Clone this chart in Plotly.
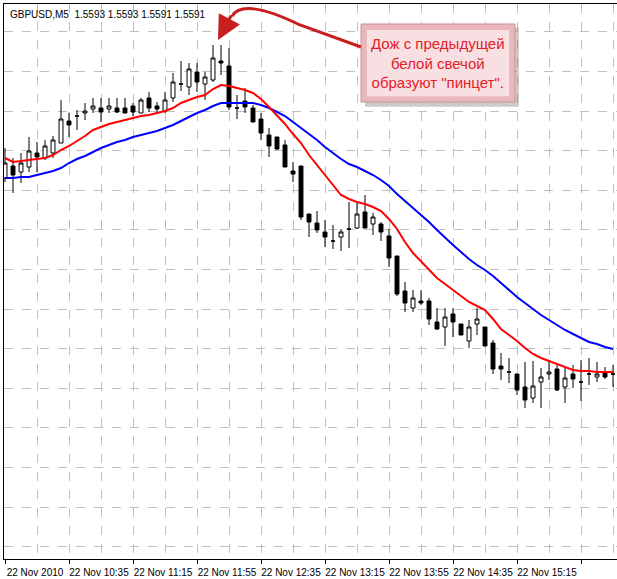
import plotly.graph_objects as go

# GBPUSD M5, 22 Nov 2010 - quotes in points (price * 1e5)
opens = [156910,156970,156940,156965,157035,157010,157035,157085,157195,157220,
         157235,157255,157260,157255,157260,157260,157270,157235,157310,157270,
         157245,157310,157380,157365,157440,157380,157400,157495,157470,157260,
         157295,157260,157205,157125,157115,157075,156945,156970,156730,156685,
         156640,156595,156615,156655,156660,156740,156680,156680,156620,156520,
         156345,156260,156295,156295,156190,156165,156230,156180,156095,156180,
         156165,156085,155970,155940,155930,155865,155810,155890,155930,155955,
         155865,155930,155890,155930,155915,155940,155930]
highs = [157060,157010,157035,157115,157090,157100,157120,157300,157235,157250,
         157285,157310,157310,157310,157310,157310,157285,157310,157340,157290,
         157340,157435,157495,157485,157485,157440,157575,157575,157560,157325,
         157360,157275,157235,157160,157115,157100,156990,156970,156730,156745,
         156700,156675,156655,156790,156785,156825,156735,156690,156655,156520,
         156390,156350,156350,156310,156260,156260,156260,156180,156200,156260,
         156165,156100,156035,156010,155930,155990,155995,155960,156000,155975,
         155960,155975,156000,156010,155990,155965,155975]
lows = [156890,156835,156885,156940,156940,157000,157010,157085,157115,157150,
        157200,157235,157190,157235,157235,157235,157220,157235,157240,157235,
        157235,157290,157345,157325,157340,157300,157390,157425,157250,157205,
        157235,157190,157100,157015,157050,156965,156890,156700,156615,156635,
        156565,156555,156545,156560,156655,156660,156625,156595,156465,156320,
        156240,156240,156275,156175,156150,156070,156115,156125,156060,156125,
        156070,155930,155900,155885,155825,155760,155785,155760,155900,155845,
        155785,155860,155795,155875,155890,155905,155865]
closes = [156985,156925,156985,157045,157015,157070,157100,157205,157175,157220,
          157245,157270,157240,157270,157240,157235,157240,157300,157260,157255,
          157300,157390,157380,157455,157390,157415,157510,157485,157265,157260,
          157265,157190,157135,157070,157055,156965,156930,156715,156690,156650,
          156615,156595,156640,156655,156730,156660,156715,156640,156510,156330,
          156285,156310,156285,156205,156155,156215,156190,156125,156165,156205,
          156070,155955,155955,155940,155850,155800,155870,155915,155940,155850,
          155910,155905,155890,155930,155930,155915,155930]
ma_fast = [157010,156990,156995,157000,157005,157010,157025,157050,157070,157095,
           157120,157150,157165,157180,157190,157200,157210,157220,157225,157235,
           157245,157260,157285,157300,157315,157325,157355,157375,157370,157360,
           157350,157335,157305,157265,157225,157180,157130,157085,157025,156975,
           156920,156870,156825,156805,156790,156780,156765,156745,156705,156655,
           156590,156535,156495,156450,156410,156380,156350,156320,156290,156270,
           156250,156205,156155,156125,156095,156060,156030,156010,155995,155980,
           155965,155950,155945,155945,155940,155940,155940]
ma_slow = [156910,156910,156915,156915,156925,156935,156945,156960,156985,157005,
           157020,157040,157060,157075,157090,157100,157115,157125,157135,157145,
           157160,157175,157195,157215,157235,157250,157270,157285,157285,157285,
           157285,157285,157275,157260,157240,157220,157190,157160,157130,157100,
           157065,157035,157005,156980,156965,156945,156925,156900,156870,156830,
           156795,156760,156725,156690,156650,156610,156575,156540,156505,156475,
           156450,156420,156385,156350,156315,156285,156255,156225,156200,156175,
           156150,156130,156110,156090,156080,156065,156055]
tick_labels = ["22 Nov 2010", "22 Nov 10:35", "22 Nov 11:15", "22 Nov 11:55", "22 Nov 12:35",
               "22 Nov 13:15", "22 Nov 13:55", "22 Nov 14:35", "22 Nov 15:15", "22 Nov 15:55"]
header = "GBPUSD,M5  1.5593 1.5593 1.5591 1.5591"
note = "Дож с предыдущей<br>белой свечой<br>образуют \"пинцет\"."

def px(v):
    return [p / 1e5 for p in v]

idx = list(range(len(opens)))

fig = go.Figure()
fig.add_trace(go.Candlestick(
    x=idx, open=px(opens), high=px(highs), low=px(lows), close=px(closes),
    increasing=dict(fillcolor="white", line=dict(color="black", width=1)),
    decreasing=dict(fillcolor="black", line=dict(color="black", width=1)),
    whiskerwidth=0, showlegend=False))
fig.add_trace(go.Scatter(x=idx, y=px(ma_slow), mode="lines",
                         line=dict(color="#0000ff", width=2), showlegend=False))
fig.add_trace(go.Scatter(x=idx, y=px(ma_fast), mode="lines",
                         line=dict(color="#ff0000", width=2), showlegend=False))

fig.update_layout(
    width=617, height=579,
    margin=dict(l=4, r=0, t=4, b=20, autoexpand=False),
    paper_bgcolor="white", plot_bgcolor="white",
    font=dict(family="Liberation Sans", size=10, color="black"),
    xaxis_rangeslider_visible=False,
)
fig.update_xaxes(
    range=[-0.125, 76.5], tickmode="array",
    tickvals=idx[::8], ticktext=tick_labels,
    ticks="outside", ticklen=4, tickcolor="black", ticklabelshift=30,
    showline=True, linecolor="black", linewidth=1, mirror=True,
    showgrid=True, gridcolor="#c0c0c0", griddash="dash",
    minor=dict(tick0=0, dtick=4, showgrid=True, gridcolor="#c0c0c0", griddash="dash"),
    zeroline=False,
)
fig.update_yaxes(
    range=[1.55005, 1.5778], showticklabels=False, ticks="",
    tick0=1.57245, dtick=0.00198,
    showline=True, linecolor="black", linewidth=1,
    showgrid=True, gridcolor="#c0c0c0", griddash="dash", zeroline=False,
)

fig.add_annotation(text=header, xref="paper", yref="paper", x=0.007, y=0.995,
                   xanchor="left", yanchor="top", showarrow=False,
                   font=dict(family="Liberation Sans", size=10, color="black"))

# note box with shadow and bevel
fig.add_shape(type="rect", xref="paper", yref="paper", x0=0.589, x1=0.840, y0=0.815, y1=0.957,
              fillcolor="rgba(120,100,100,0.35)", line_width=0, layer="above")
fig.add_shape(type="rect", xref="paper", yref="paper", x0=0.5824, x1=0.8336, y0=0.8234, y1=0.964,
              fillcolor="#e8b8be", line=dict(color="#c9949a", width=1), layer="above")
fig.add_shape(type="rect", xref="paper", yref="paper", x0=0.592, x1=0.824, y0=0.834, y1=0.953,
              fillcolor="#f8dfe1", line_width=0, layer="above")
fig.add_annotation(text=note, xref="paper", yref="paper", x=0.708, y=0.8937,
                   xanchor="center", yanchor="middle",
                   showarrow=False, align="center",
                   font=dict(family="Liberation Sans", size=15, color="#e3202c"))

# curved arrow to the doji
fig.add_shape(type="path", xref="paper", yref="paper",
              path="M 0.5824,0.9225 L 0.4829,0.9622 Q 0.39,1.012 0.372,0.978",
              line=dict(color="#c81e1e", width=3), layer="above")
fig.add_annotation(x=0.3491, y=0.9351, xref="paper", yref="paper", ax=14, ay=-26,
                   text="", showarrow=True, arrowhead=2, arrowsize=1.6, arrowwidth=3,
                   arrowcolor="#c81e1e")

fig.write_html("out.html", config={"displayModeBar": False},
               post_script="document.body.style.margin='0';document.body.style.overflow='hidden';")
